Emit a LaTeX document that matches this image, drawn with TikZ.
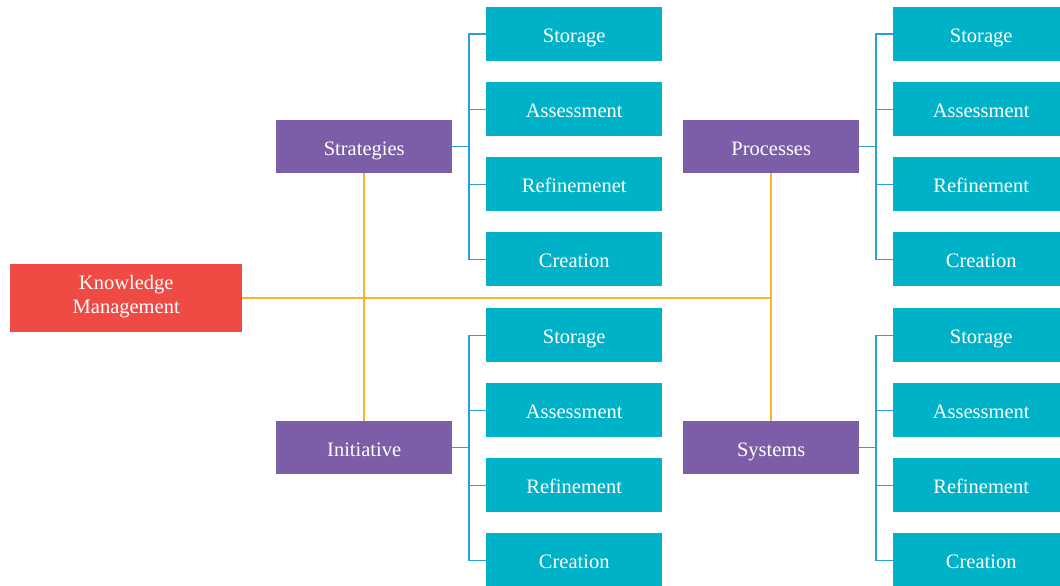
\documentclass[tikz,border=0pt]{standalone}
\usepackage{fontspec}
\setmainfont{Liberation Serif}
\usetikzlibrary{calc}
\definecolor{kmred}{HTML}{EF4B44}
\definecolor{grpurple}{HTML}{7B5EA7}
\definecolor{leafcyan}{HTML}{00B2C8}
\definecolor{linkblue}{HTML}{2C9FD9}
\definecolor{linkyellow}{HTML}{F7B52B}
\tikzset{
  box/.style={anchor=north west, text=white, inner sep=0pt, align=center,
    font=\fontsize{20.5}{24}\selectfont, text height=17pt, text depth=0pt},
  root/.style={box, fill=kmred, minimum width=232pt, minimum height=68pt,
    text height=38pt, text depth=8pt},
  group/.style={box, fill=grpurple, minimum width=176pt, minimum height=53pt},
  leaf/.style={box, fill=leafcyan, minimum width=176pt, minimum height=54pt},
  yline/.style={draw=linkyellow, line width=1.6pt},
  bline/.style={draw=linkblue, line width=1.4pt},
}
\begin{document}
\begin{tikzpicture}[x=1pt, y=-1pt]
\useasboundingbox (0,0) rectangle (1060,586);
\clip (0,0) rectangle (1060,586);

% root
\node[root] (km) at (10,264) {Knowledge\\Management};

% groups
\node[group] (strat) at (276,120) {Strategies};
\node[group] (proc)  at (683,120) {Processes};
\node[group] (init)  at (276,421) {Initiative};
\node[group] (sys)   at (683,421) {Systems};

% leaves: a = strategies, b = processes, c = initiative, d = systems
\node[leaf] (a1) at (486,7)   {Storage};
\node[leaf] (a2) at (486,82)  {Assessment};
\node[leaf] (a3) at (486,157) {Refinemenet};
\node[leaf] (a4) at (486,232) {Creation};

\node[leaf] (b1) at (893,7)   {Storage};
\node[leaf] (b2) at (893,82)  {Assessment};
\node[leaf] (b3) at (893,157) {Refinement};
\node[leaf] (b4) at (893,232) {Creation};

\node[leaf] (c1) at (486,308) {Storage};
\node[leaf] (c2) at (486,383) {Assessment};
\node[leaf] (c3) at (486,458) {Refinement};
\node[leaf] (c4) at (486,533) {Creation};

\node[leaf] (d1) at (893,308) {Storage};
\node[leaf] (d2) at (893,383) {Assessment};
\node[leaf] (d3) at (893,458) {Refinement};
\node[leaf] (d4) at (893,533) {Creation};

% trunk connectors
\draw[yline] (km.east) -- (km.east -| proc.south);
\draw[yline] (strat.south) -- (init.north);
\draw[yline] (proc.south) -- (sys.north);

% brackets from each group to its leaves
\foreach \p/\g in {strat/a, proc/b, init/c, sys/d} {
  \draw[bline] (\p.east) -- ++(17,0);
  \draw[bline] (\g1.west) -- ++(-17,0) |- (\g4.west);
  \draw[bline] (\g2.west) -- ++(-17,0);
  \draw[bline] (\g3.west) -- ++(-17,0);
}
\end{tikzpicture}
\end{document}
